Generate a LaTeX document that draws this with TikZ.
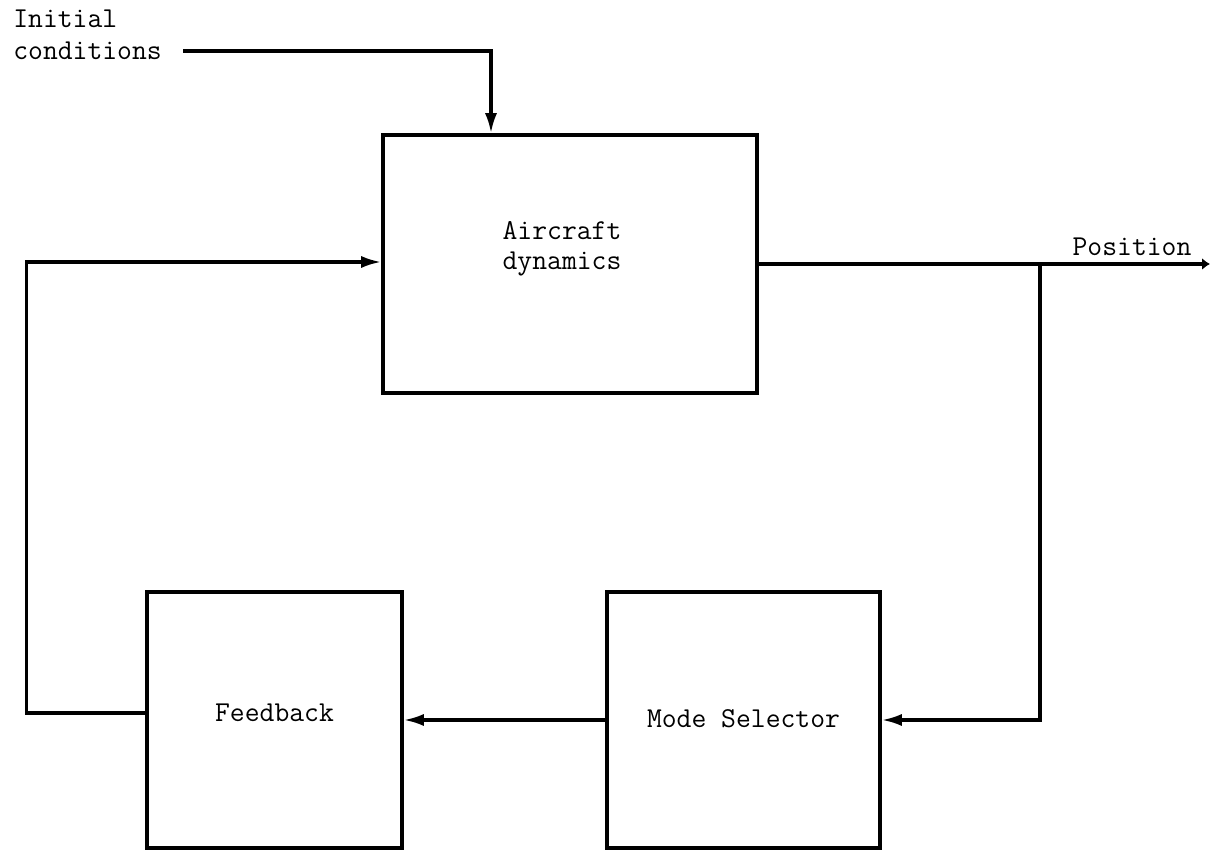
\documentclass[tikz,border=0pt]{standalone}
\usepackage{tikz}
\usetikzlibrary{arrows.meta}

\begin{document}
\begin{tikzpicture}[
    block/.style={draw, line width=2pt, rectangle, inner sep=0pt},
    txt/.style={font=\fontsize{16.4}{17}\selectfont\ttfamily, inner sep=0pt},
    arr/.style={line width=1.8pt, -{Latex[length=4mm,width=2.4mm]}},
    line/.style={line width=1.8pt}
  ]
            \useasboundingbox (0,0) rectangle (24.22,17.04);

            % Draw the blocks
            \node[block, minimum width=7.48cm, minimum height=5.16cm] (aircraft) at (11.4,11.76) {};
            \node[txt, align=center] (aircrafttxt) at (11.24,12.06) {Aircraft\\dynamics};
            \node[block, txt, minimum width=5.1cm, minimum height=5.12cm, text depth=0.3cm] (feedback) at (5.49,2.64) {Feedback};
            \node[block, txt, minimum width=5.46cm, minimum height=5.12cm, text depth=0.05cm] (mode) at (14.87,2.64) {Mode Selector};

            % Initial conditions input
            \node[txt, align=left, anchor=west, font=\fontsize{16.4}{18.5}\selectfont\ttfamily] (init) at (0.26,16.34) {Initial\\conditions};
            \coordinate (icin) at (3.66,16.02);
            \draw[arr] (icin) -| ([xshift=-1.58cm]aircraft.north);

            % Output position and branch to the mode selector
            \coordinate (pos) at (24.2,11.76);
            \coordinate (split) at (20.8,11.76);
            \draw[line, -{Latex[length=1.6mm,width=2.4mm]}] (aircraft.east) -- (pos);
            \node[txt] (poslabel) at (22.64,12.1) {Position};
            \draw[arr] (split) |- (mode.east);

            % Mode selector to feedback
            \draw[arr] (mode.west) -- (feedback.east);

            % Feedback loop back to the aircraft
            \draw[arr] ([yshift=0.14cm]feedback.west) -- ++(-2.38,0) |- ([yshift=0.04cm]aircraft.west);
        \end{tikzpicture}
\end{document}
